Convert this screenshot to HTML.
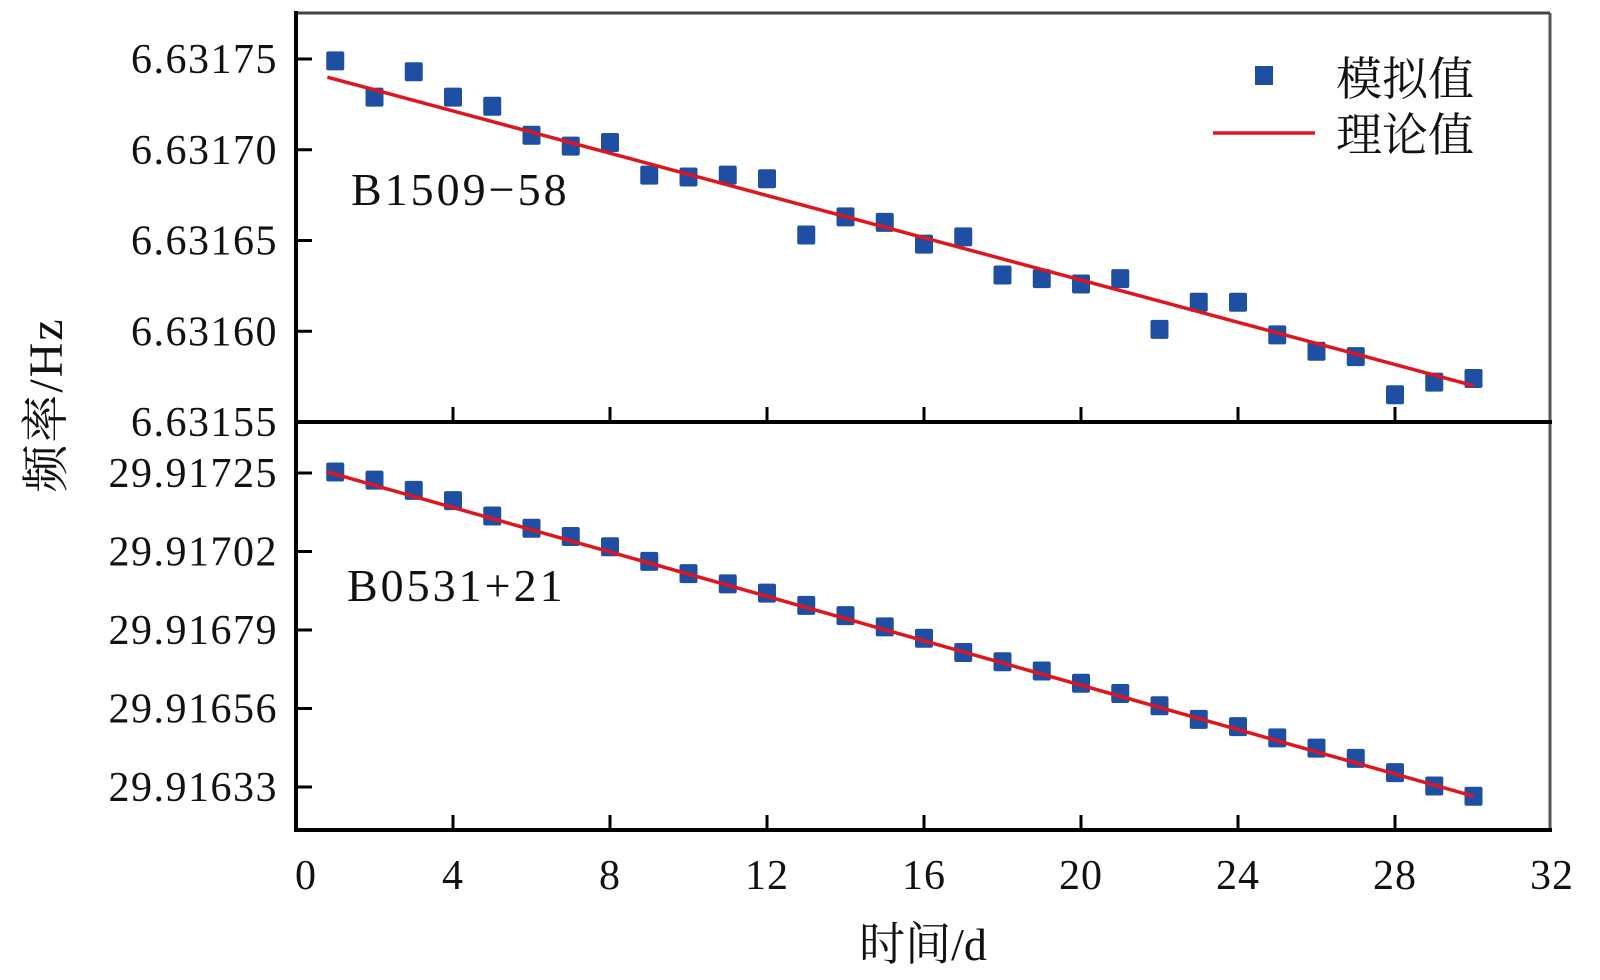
<!DOCTYPE html>
<html><head><meta charset="utf-8"><style>
html,body{margin:0;padding:0;background:#fff;}
svg{display:block;}
text{font-family:"Liberation Serif","Noto Serif CJK SC",serif;fill:#111;}
</style></head><body>
<svg id="chart" width="1600" height="980" viewBox="0 0 1600 980" xmlns="http://www.w3.org/2000/svg">
<g id="frame">
<line x1="296" y1="13" x2="1550" y2="13" stroke="#444" stroke-width="3"/>
<line x1="1550" y1="13" x2="1550" y2="830" stroke="#555" stroke-width="3"/>
<line x1="296" y1="11" x2="296" y2="832" stroke="#000" stroke-width="4"/>
<line x1="294" y1="830" x2="1552" y2="830" stroke="#000" stroke-width="4"/>
<line x1="296" y1="422" x2="1552" y2="422" stroke="#000" stroke-width="4"/>
</g>
<g id="axes"></g>
<g id="marks"></g>
<text x="351" y="205" font-size="46" letter-spacing="3">B1509−58</text>
<text x="347" y="601" font-size="46" letter-spacing="3">B0531+21</text>
<text x="923" y="960" font-size="46" text-anchor="middle">时间/d</text>
<text transform="translate(62,405) rotate(-90)" font-size="48" letter-spacing="2" text-anchor="middle">频率/Hz</text>
<g>
<rect x="1255" y="66" width="18" height="19" fill="#1f4fa3"/>
<text x="1336" y="95" font-size="46">模拟值</text>
<line x1="1213" y1="133" x2="1315" y2="133" stroke="#e0161e" stroke-width="3.5"/>
<text x="1336" y="151" font-size="46">理论值</text>
</g>
</svg>
<script>
const days = [1,2,3,4,5,6,7,8,9,10,11,12,13,14,15,16,17,18,19,20,21,22,23,24,25,26,27,28,29,30];
const simTop = [6.631749,6.631729,6.631743,6.631729,6.631724,6.631708,6.631702,6.631704,6.631686,6.631685,6.631686,6.631684,6.631653,6.631663,6.631660,6.631648,6.631652,6.631631,6.631629,6.631626,6.631629,6.631601,6.631616,6.631616,6.631598,6.631589,6.631586,6.631565,6.631572,6.631574];
const theoryTopX = [0.8, 30];
const theoryTopY = [6.631740, 6.631570];
const simBot = [29.917253,29.917229,29.917199,29.917169,29.917124,29.917088,29.917064,29.917034,29.916991,29.916955,29.916925,29.916898,29.916862,29.916832,29.916799,29.916766,29.916724,29.916697,29.916670,29.916634,29.916604,29.916568,29.916528,29.916507,29.916474,29.916444,29.916414,29.916372,29.916333,29.916303];
const theoryBotX = [0.8, 30];
const theoryBotY = [29.917253, 29.916303];
const xTicks = [0,4,8,12,16,20,24,28,32];
const yTopTicks = [6.63155,6.63160,6.63165,6.63170,6.63175];
const yTopLabels = ["6.63155","6.63160","6.63165","6.63170","6.63175"];
const yBotTicks = [29.91633,29.91656,29.91679,29.91702,29.91725];
const yBotLabels = ["29.91633","29.91656","29.91679","29.91702","29.91725"];

const NS="http://www.w3.org/2000/svg";
const sx = v => 296 + v*(1552-296)/32;
const syT = v => 422 - (v-6.63155)/0.00005*90.75;
const syB = v => 787 - (v-29.91633)/0.00023*78.5;
function mk(tag, attrs, parent){const e=document.createElementNS(NS,tag);for(const k in attrs)e.setAttribute(k,attrs[k]);parent.appendChild(e);return e;}
const axes=document.getElementById('axes'), marks=document.getElementById('marks');

xTicks.forEach((t,i)=>{
  if(i>0&&i<xTicks.length-1){
    const l=mk('line',{x1:sx(t),x2:sx(t),y1:830,y2:815,stroke:'#000','stroke-width':3},axes);
    
    
    const l2=mk('line',{x1:sx(t),x2:sx(t),y1:422,y2:407,stroke:'#000','stroke-width':3},axes);
    
    
  }
  const tx=mk('text',{x:sx(t)+(t===0?10:0),y:889,'font-size':42,'letter-spacing':1,'text-anchor':'middle'},axes);
  tx.textContent=String(t);
  
  
});
function yTicks(ticks,labels,sy,skipFirst){
  ticks.forEach((t,i)=>{
    const y=sy(t);
    if(!(skipFirst&&i===0)){
      const l=mk('line',{x1:296,x2:312,y1:y,y2:y,stroke:'#000','stroke-width':3},axes);
      
      
    }
    const tx=mk('text',{x:278,y:y+14,'font-size':42,'letter-spacing':1.5,'text-anchor':'end'},axes);
    tx.textContent=labels[i];
    
    
  });
}
yTicks(yTopTicks,yTopLabels,syT,true);
yTicks(yBotTicks,yBotLabels,syB,false);

function series(sim,tx,ty,sy,tag){
  days.forEach((d,i)=>{
    const r=mk('rect',{x:sx(d)-9,y:sy(sim[i])-9.5,width:18,height:19,rx:2,fill:'#1f4fa3'},marks);
    
    
  });
  const l=mk('line',{x1:sx(tx[0]),y1:sy(ty[0]),x2:sx(tx[1]),y2:sy(ty[1]),stroke:'#e0161e','stroke-width':3.5},marks);
  
  
}
series(simTop,theoryTopX,theoryTopY,syT,'b1509');
series(simBot,theoryBotX,theoryBotY,syB,'b0531');
</script>
</body></html>
